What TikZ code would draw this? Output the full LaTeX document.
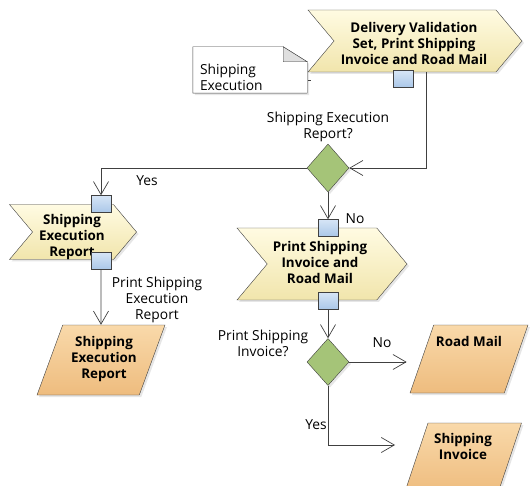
\documentclass[tikz,border=0pt]{standalone}
\usepackage{fontspec}
\setmainfont{Open Sans}
\usetikzlibrary{arrows.meta, calc, positioning, shapes.geometric, shapes.symbols, shadows}
\definecolor{linegray}{RGB}{64,64,64}
\definecolor{procTop}{RGB}{255,251,226}
\definecolor{procBot}{RGB}{241,229,172}
\definecolor{portTop}{RGB}{214,229,246}
\definecolor{portBot}{RGB}{170,199,232}
\definecolor{gateFill}{RGB}{165,196,120}
\definecolor{outTop}{RGB}{249,217,170}
\definecolor{outBot}{RGB}{238,188,126}

\begin{document}
\begin{tikzpicture}[
            x=1pt, y=-1pt,
            font=\fontsize{13.8}{16}\selectfont,
            process/.style={signal, signal to=east, signal from=west, signal pointer angle=100, draw=linegray, top color=procTop, bottom color=procBot, inner sep=0pt, drop shadow={opacity=0.2, shadow xshift=2pt, shadow yshift=-2pt}},
            port/.style={draw=linegray, top color=portTop, bottom color=portBot, minimum width=20pt, minimum height=17pt, inner sep=0pt},
            gate/.style={diamond, draw=linegray, fill=gateFill, minimum width=42pt, minimum height=48pt, inner sep=0pt, drop shadow={opacity=0.2, shadow xshift=2pt, shadow yshift=-2pt}},
            output/.style={trapezium, trapezium left angle=67, trapezium right angle=113, trapezium stretches=true, draw=linegray, top color=outTop, bottom color=outBot, inner sep=0pt, drop shadow={opacity=0.2, shadow xshift=2pt, shadow yshift=-2pt}},
            boldtext/.style={align=center, font=\bfseries\fontsize{13.4}{16}\selectfont},
            lbl/.style={align=center, inner sep=1pt},
            flow/.style={draw=linegray, line width=0.7pt, -{Straight Barb[length=13pt, width=15pt, line width=0.7pt]}},
            link/.style={draw=linegray, line width=0.7pt}
        ]
            \useasboundingbox (0,0) rectangle (530,486);

            % Events and functions
            \node[process, minimum width=214pt, minimum height=62pt] (delivery) at (415,41) {};
            \node[boldtext] (deliverytext) at (414,43) {Delivery Validation\\Set, Print Shipping\\Invoice and Road Mail};
            \node[port] (p1) at (403,79) {};

            % Note with folded corner
            \node[minimum width=114pt, minimum height=46pt, inner sep=0pt] (note) at (250,70) {};
            \draw[draw=linegray, fill=white, drop shadow={opacity=0.2, shadow xshift=2pt, shadow yshift=-2pt}] (note.north west) -- ([xshift=-24pt]note.north east) -- ([yshift=-15pt]note.north east) -- (note.south east) -- (note.south west) -- cycle;
            \draw[draw=linegray, fill=gray!25] ([xshift=-24pt]note.north east) -- ([xshift=-24pt, yshift=-15pt]note.north east) -- ([yshift=-15pt]note.north east) -- cycle;
            \node[anchor=south west, align=left, inner sep=0pt] (notetext) at ([xshift=7pt, yshift=2pt]note.south west) {Shipping\\Execution};
            \coordinate (notestub) at ([xshift=4pt, yshift=-10pt]note.east);
            \draw[link] ([xshift=1pt, yshift=-10pt]note.east) -- (notestub);

            \node[gate] (gate1) at (328,168) {};
            \node[lbl, above=1pt of gate1] (gate1text) {Shipping Execution\\Report?};

            \node[process, minimum width=127pt, minimum height=55pt] (report) at (73,232) {};
            \node[boldtext] (reporttext) at (72,237) {Shipping\\Execution\\Report};
            \node[port] (p2) at (101,204) {};
            \node[port] (p3) at (101,261) {};

            \node[process, minimum width=170pt, minimum height=72pt] (printing) at (322,264) {};
            \node[boldtext] (printingtext) at (320,262) {Print Shipping\\Invoice and\\Road Mail};
            \node[port] (p4) at (328,228) {};
            \node[port] (p5) at (328,301) {};

            \node[gate, minimum height=47pt] (gate2) at (328,362) {};
            \node[lbl] (gate2text) at (263,343) {Print Shipping\\Invoice?};

            \node[output, minimum width=128pt, minimum height=70pt] (serdoc) at (101,360) {\phantom{M}};
            \node[boldtext] (serdoctext) at (104,359) {Shipping\\Execution\\Report};

            \node[output, minimum width=118pt, minimum height=68pt] (roadmail) at (469,359) {\phantom{M}};
            \node[boldtext, below=8pt of roadmail.north] (roadmailtext) {Road Mail};

            \node[output, minimum width=117pt, minimum height=70pt] (invoice) at (463,458) {\phantom{M}};
            \node[boldtext, below=7pt of invoice.north] (invoicetext) {Shipping\\Invoice};

            % Connections
            \coordinate (yesend) at (395,445);
            \draw[flow] ([xshift=11pt]delivery.south) |- (gate1.east);
            \draw[flow] (gate1.west) -| (p2.north);
            \draw[flow] (gate1.south) -- (p4.north);
            \draw[flow] (p3.south) -- (serdoc.north);
            \draw[flow] (p5.south) -- (gate2.north);
            \draw[flow, shorten >=15pt] (gate2.east) -- (gate2.east -| roadmail.west);
            \draw[flow] (gate2.south) |- (yesend);

            % Labels on connections
            \node[lbl] (yes1) at (147,181) {Yes};
            \node[lbl] (no1) at (355,219) {No};
            \node[lbl] (printlbl) at (157,300) {Print Shipping\\Execution\\Report};
            \node[lbl] (no2) at (382,343) {No};
            \node[lbl] (yes2) at (316,425) {Yes};
        \end{tikzpicture}
\end{document}
